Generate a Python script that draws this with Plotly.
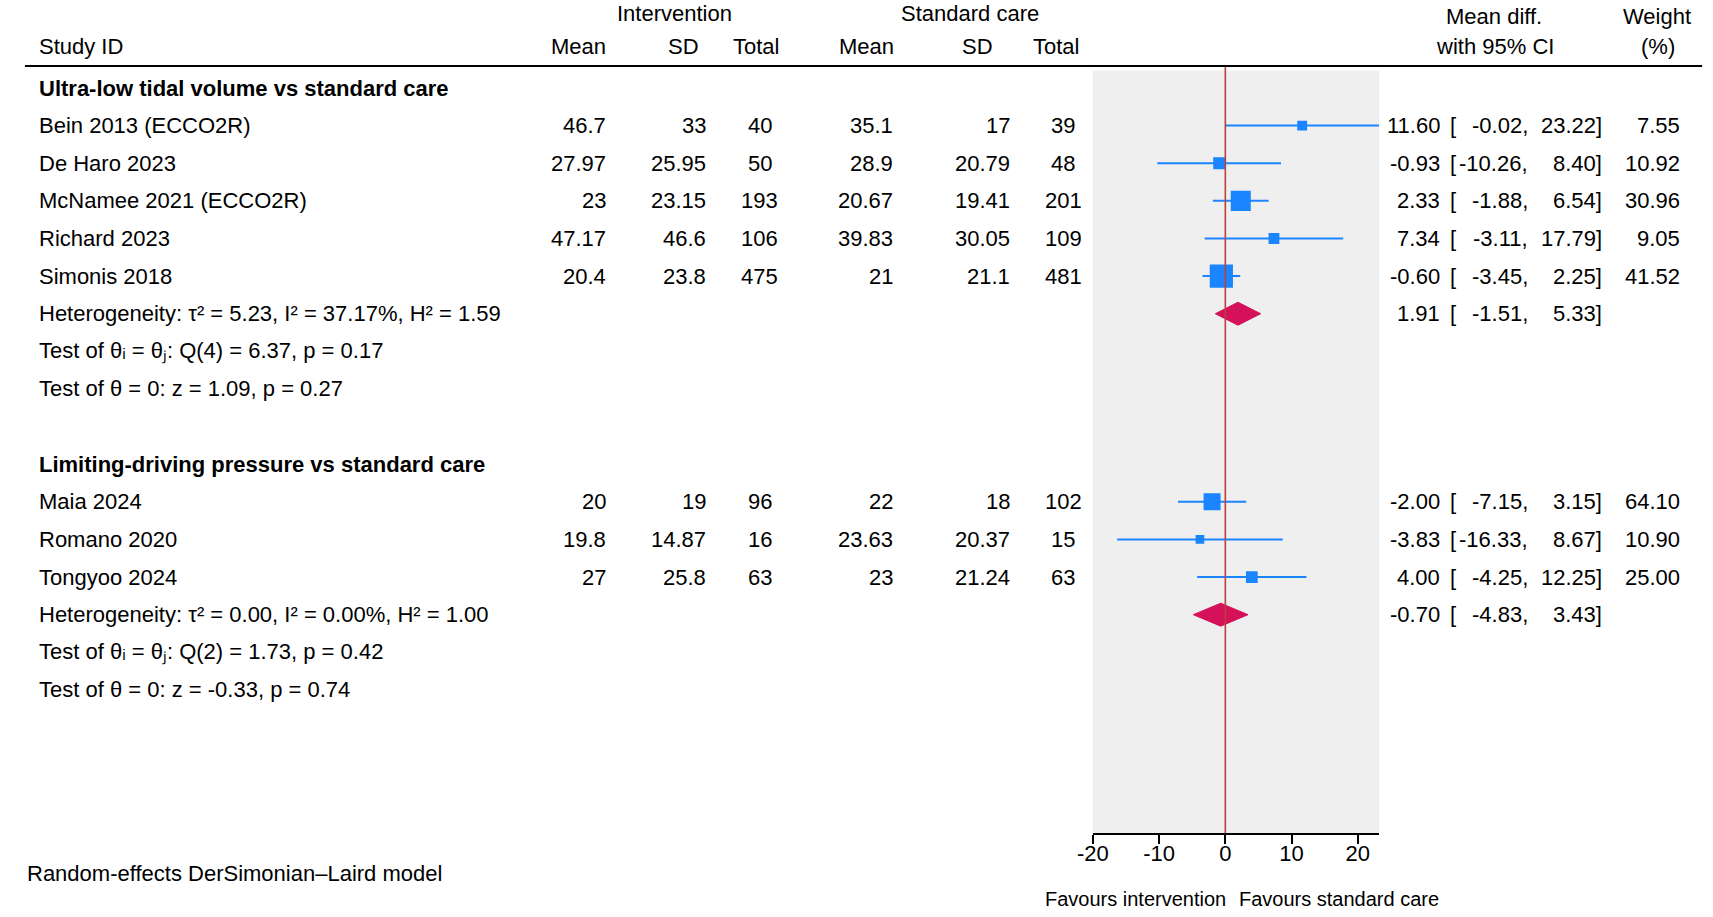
import math
import plotly.graph_objects as go

# ---------------- data ----------------
groups = ["Ultra-low tidal volume vs standard care",
          "Limiting-driving pressure vs standard care"]
studies = ["Bein 2013 (ECCO2R)", "De Haro 2023", "McNamee 2021 (ECCO2R)",
           "Richard 2023", "Simonis 2018",
           "Maia 2024", "Romano 2020", "Tongyoo 2024"]
study_group = [0, 0, 0, 0, 0, 1, 1, 1]
int_mean = [46.7, 27.97, 23, 47.17, 20.4, 20, 19.8, 27]
int_sd = [33, 25.95, 23.15, 46.6, 23.8, 19, 14.87, 25.8]
int_n = [40, 50, 193, 106, 475, 96, 16, 63]
std_mean = [35.1, 28.9, 20.67, 39.83, 21, 22, 23.63, 23]
std_sd = [17, 20.79, 19.41, 30.05, 21.1, 18, 20.37, 21.24]
std_n = [39, 48, 201, 109, 481, 102, 15, 63]
md = [11.60, -0.93, 2.33, 7.34, -0.60, -2.00, -3.83, 4.00]
md_lo = [-0.02, -10.26, -1.88, -3.11, -3.45, -7.15, -16.33, -4.25]
md_hi = [23.22, 8.40, 6.54, 17.79, 2.25, 3.15, 8.67, 12.25]
weight = [7.55, 10.92, 30.96, 9.05, 41.52, 64.10, 10.90, 25.00]

pooled = [1.91, -0.70]
pooled_lo = [-1.51, -4.83]
pooled_hi = [5.33, 3.43]
tau2 = [5.23, 0.00]
i2 = [37.17, 0.00]
h2 = [1.59, 1.00]
q_df = [4, 2]
q_val = [6.37, 1.73]
q_p = [0.17, 0.42]
z_val = [1.09, -0.33]
z_p = [0.27, 0.74]

x_ticks = [-20, -10, 0, 10, 20]
x_range = [-20, 23.22]

# ---------------- layout constants ----------------
W, H = 1713, 917
FONT = "Liberation Sans, Arial, sans-serif"
FS = 22
BLUE = "#1a85ff"
CRIMSON = "#d41159"
REDLINE = "#bf3f3a"
GREY = "#efefef"

Y0, S = 88.0, 37.62          # pixel y of row 0 and row spacing
AXIS_PX = 833                 # pixel y of x-axis line
PLOT_L, PLOT_R = 1087, 1376   # pixel x of plot region
r_top = -Y0 / S
r_bot = (AXIS_PX - Y0) / S


def px2row(p):
    return (p - Y0) / S


def px(x):
    return x / W


def py(y):
    return 1 - y / H


annotations = []


def txt(x, y, s, anchor="left", yref="y", size=FS, bold=False):
    if bold:
        s = "<b>" + s + "</b>"
    annotations.append(dict(
        x=px(x), xref="paper", y=y, yref=yref, text=s, showarrow=False,
        xanchor=anchor, yanchor="middle",
        font=dict(family=FONT, size=size, color="black")))


def fmt(v):
    return f"{v:g}"


# ---------------- headers ----------------
txt(665, py(13), "Intervention", "center", "paper")
txt(963, py(13), "Standard care", "center", "paper")
txt(1492, py(17), "Mean diff.", "center", "paper")
txt(1656, py(17), "Weight", "center", "paper")
txt(21, py(46), "Study ID", "left", "paper")
for label, xr in [("Mean", 598), ("SD", 691), ("Total", 772),
                  ("Mean", 888), ("SD", 988), ("Total", 1075)]:
    txt(xr, py(46), label, "right", "paper")
txt(1493, py(46), "with 95% CI", "center", "paper")
txt(1657, py(46), "(%)", "center", "paper")

# ---------------- rows ----------------
columns = [(int_mean, 598, "right"), (int_sd, 699, "right"), (int_n, 751, "center"),
           (std_mean, 887, "right"), (std_sd, 1005, "right"), (std_n, 1057, "center")]
size_a = [0.0, 2.85]   # marker side = a + b*sqrt(weight), per subgroup
size_b = [3.6, 1.77]

rows = []
group_start = []
r = 0
for g in range(len(groups)):
    group_start.append(r)
    txt(21, r, groups[g], "left", bold=True)
    r += 1
    for i, sg in enumerate(study_group):
        if sg != g:
            continue
        rows.append(r)
        txt(21, r, studies[i])
        for vals, xc, anc in columns:
            txt(xc, r, fmt(vals[i]), anc)
        txt(1439, r, f"{md[i]:.2f}", "right")
        txt(1446, r, "[", "left")
        txt(1528, r, f"{md_lo[i]:.2f},", "right")
        txt(1603, r, f"{md_hi[i]:.2f}]", "right")
        txt(1682, r, f"{weight[i]:.2f}", "right")
        r += 1
    # pooled row
    txt(21, r, f"Heterogeneity: τ² = {tau2[g]:.2f}, I² = {i2[g]:.2f}%, H² = {h2[g]:.2f}")
    txt(1439, r, f"{pooled[g]:.2f}", "right")
    txt(1446, r, "[", "left")
    txt(1528, r, f"{pooled_lo[g]:.2f},", "right")
    txt(1603, r, f"{pooled_hi[g]:.2f}]", "right")
    r += 1
    txt(21, r, f"Test of θᵢ = θⱼ: Q({q_df[g]}) = {q_val[g]:.2f}, p = {q_p[g]:.2f}")
    r += 1
    txt(21, r, f"Test of θ = 0: z = {z_val[g]:.2f}, p = {z_p[g]:.2f}")
    r += 2

pooled_rows = [group_start[g] + 1 + study_group.count(g) for g in range(len(groups))]

# footnotes
txt(9, py(873), "Random-effects DerSimonian–Laird model", "left", "paper")
txt(1130, py(899), "Favours intervention", "center", "paper", size=20)
txt(1335, py(899), "Favours standard care", "center", "paper", size=20)

# ---------------- traces ----------------
fig = go.Figure()

ci_x, ci_y = [], []
for i in range(len(studies)):
    ci_x += [md_lo[i], md_hi[i], None]
    ci_y += [rows[i], rows[i], None]
fig.add_trace(go.Scatter(x=ci_x, y=ci_y, mode="lines",
                         line=dict(color=BLUE, width=2), hoverinfo="skip",
                         showlegend=False))

sizes = [size_a[study_group[i]] + size_b[study_group[i]] * math.sqrt(weight[i])
         for i in range(len(studies))]
fig.add_trace(go.Scatter(x=md, y=rows, mode="markers",
                         marker=dict(symbol="square", size=sizes, color=BLUE,
                                     opacity=1, line=dict(width=0)),
                         showlegend=False))

dh = 11.5 / S
for g in range(len(groups)):
    rr = pooled_rows[g]
    fig.add_trace(go.Scatter(
        x=[pooled_lo[g], pooled[g], pooled_hi[g], pooled[g], pooled_lo[g]],
        y=[rr, rr - dh, rr, rr + dh, rr],
        mode="lines", fill="toself", fillcolor=CRIMSON,
        line=dict(color=CRIMSON, width=1), showlegend=False))

# ---------------- shapes ----------------
shapes = [
    dict(type="rect", xref="x domain", x0=0, x1=1, yref="y", y0=px2row(70.5), y1=r_bot,
         fillcolor=GREY, line=dict(width=0), layer="below"),
    dict(type="line", xref="x", x0=0, x1=0, yref="y", y0=px2row(66.5), y1=r_bot,
         line=dict(color=REDLINE, width=1.6), layer="above"),
    dict(type="line", xref="paper", x0=px(9), x1=px(1702), yref="paper",
         y0=py(66), y1=py(66), line=dict(color="black", width=2)),
]

fig.update_layout(
    width=W, height=H,
    margin=dict(l=0, r=0, t=0, b=0),
    paper_bgcolor="white", plot_bgcolor="rgba(0,0,0,0)",
    font=dict(family=FONT, size=FS, color="black"),
    annotations=annotations, shapes=shapes,
    xaxis=dict(domain=[px(PLOT_L), px(PLOT_R)], range=x_range,
               tickvals=x_ticks, ticktext=[str(t) for t in x_ticks],
               ticks="outside", ticklen=9, tickwidth=1.5, tickcolor="black",
               ticklabelstandoff=-9,
               showline=True, linecolor="black", linewidth=1.5,
               showgrid=False, zeroline=False,
               tickfont=dict(family=FONT, size=FS, color="black")),
    yaxis=dict(domain=[1 - AXIS_PX / H, 1], range=[r_bot, r_top],
               visible=False, showgrid=False, zeroline=False),
    showlegend=False,
)

fig.write_html("out.html",
               config={"displayModeBar": False},
               post_script="document.body.style.margin='0px';document.body.style.overflow='hidden';")
